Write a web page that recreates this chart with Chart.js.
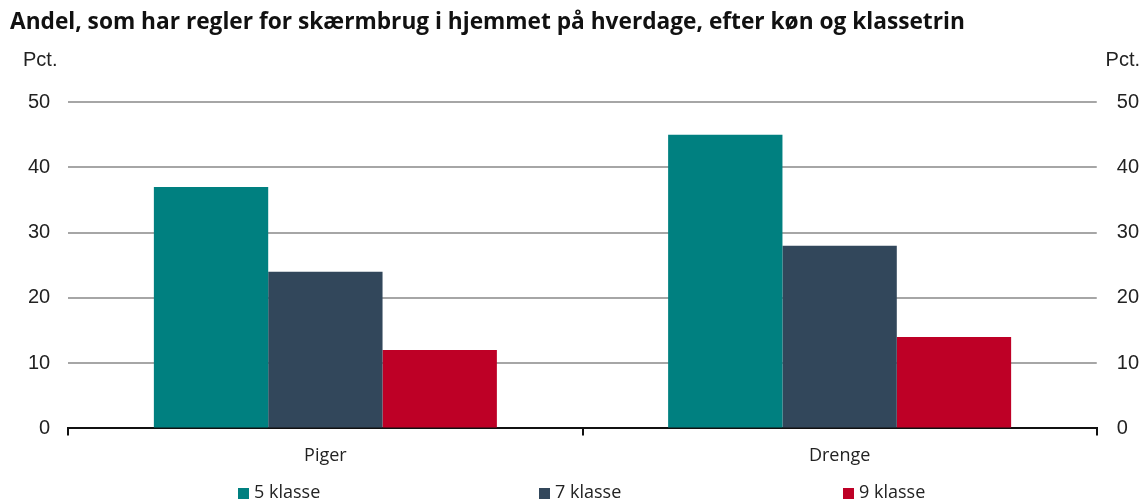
<!DOCTYPE html>
<html>
<head>
<meta charset="utf-8">
<script src="https://cdn.jsdelivr.net/npm/chart.js@4/dist/chart.umd.min.js"></script>
<style>
  html, body { margin: 0; padding: 0; background: #ffffff; }
  #wrap { width: 1144px; height: 504px; position: relative; }
</style>
</head>
<body>
<div id="wrap"><canvas id="chart"></canvas></div>
<script>
// data
const categories = ["Piger", "Drenge"];
const seriesNames = ["5 klasse", "7 klasse", "9 klasse"];
const klasse5 = [37, 45];
const klasse7 = [24, 28];
const klasse9 = [12, 14];
const seriesColors = ["rgb(0, 128, 128)", "rgb(50, 71, 91)", "rgb(190, 0, 38)"];
const titleText = "Andel, som har regler for skærmbrug i hjemmet på hverdage, efter køn og klassetrin";
const unitLabel = "Pct.";

const seriesValues = [klasse5, klasse7, klasse9];

// "Pct." above both value axes, plus a widely spaced legend row
const extrasPlugin = {
  id: "extras",
  afterDraw(chart) {
    const ctx = chart.ctx;
    const area = chart.chartArea;
    ctx.save();
    ctx.font = "20px 'Liberation Sans', Arial, sans-serif";
    ctx.fillStyle = "#222222";
    ctx.textBaseline = "middle";
    ctx.textAlign = "left";
    ctx.fillText(unitLabel, 23, area.top - 42);
    ctx.textAlign = "right";
    ctx.fillText(unitLabel, 1140, area.top - 42);

    // legend
    const legendX = [238, 539, 843];
    const legendY = 493;
    ctx.font = "18px 'Open Sans', sans-serif";
    ctx.textAlign = "left";
    chart.data.datasets.forEach((ds, i) => {
      ctx.fillStyle = ds.backgroundColor;
      ctx.fillRect(legendX[i], legendY - 5, 11, 11);
      ctx.fillStyle = "#222222";
      ctx.fillText(ds.label, legendX[i] + 16, legendY);
    });
    ctx.restore();
  },
};

const datasets = seriesNames.map((name, i) => ({
  label: name,
  data: seriesValues[i],
  backgroundColor: seriesColors[i],
  borderWidth: 0,
  categoryPercentage: 0.667,
  barPercentage: 1.0,
}));

new Chart(document.getElementById("chart"), {
  type: "bar",
  data: { labels: categories, datasets: datasets },
  plugins: [extrasPlugin],
  options: {
    responsive: true,
    maintainAspectRatio: false,
    animation: false,
    layout: { padding: { left: 10, right: -15, top: 0, bottom: 27 } },
    plugins: {
      title: {
        display: true,
        text: titleText,
        align: "start",
        color: "#111111",
        font: { family: "'Open Sans', sans-serif", size: 22.7, weight: "bold" },
        padding: { top: 9, bottom: 66 },
      },
      legend: { display: false },
      tooltip: { enabled: false },
    },
    scales: {
      x: {
        border: { display: true, color: "#111111", width: 2 },
        grid: {
          display: true,
          drawOnChartArea: false,
          drawTicks: true,
          tickLength: 7,
          color: "#111111",
          lineWidth: 2,
        },
        ticks: {
          color: "#222222",
          padding: 10,
          font: { family: "'Open Sans', sans-serif", size: 18 },
        },
      },
      y: {
        position: "left",
        min: 0,
        max: 50,
        ticks: {
          stepSize: 10,
          padding: 18,
          color: "#222222",
          font: { family: "'Liberation Sans', Arial, sans-serif", size: 20 },
        },
        border: { display: false },
        grid: { color: "#a6a6a6", lineWidth: 2, drawTicks: false },
      },
      y2: {
        position: "right",
        min: 0,
        max: 50,
        ticks: {
          stepSize: 10,
          padding: 20,
          color: "#222222",
          font: { family: "'Liberation Sans', Arial, sans-serif", size: 20 },
        },
        border: { display: false },
        grid: { display: false, drawTicks: false },
      },
    },
  },
});
</script>
</body>
</html>
